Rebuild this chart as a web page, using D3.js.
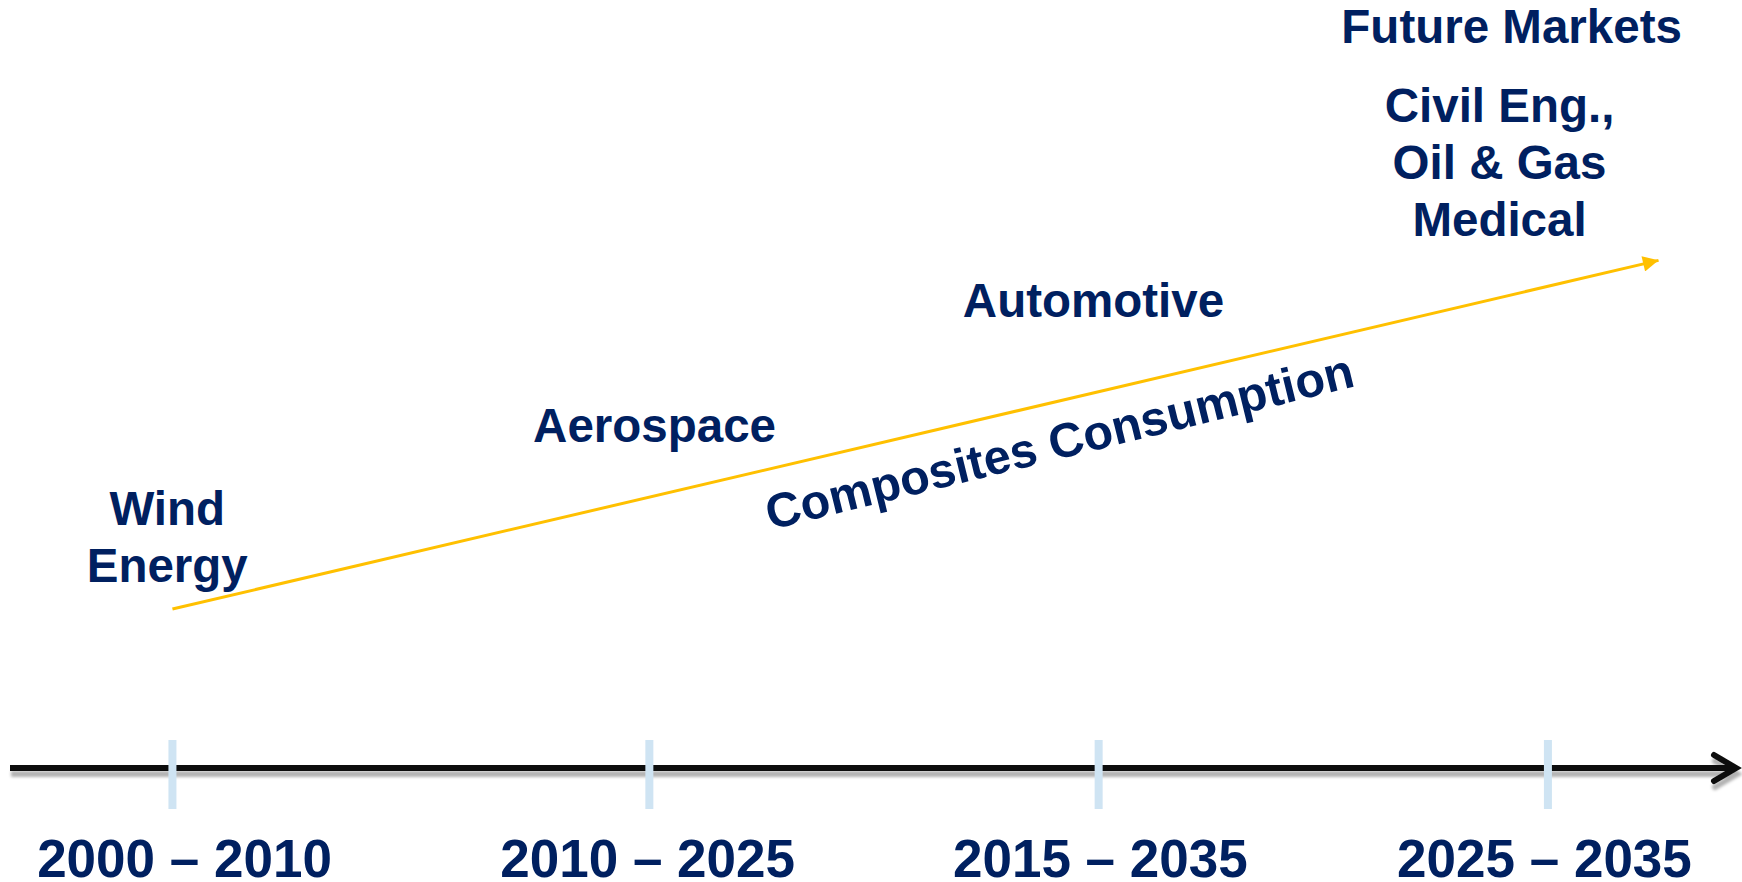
<!DOCTYPE html>
<html>
<head>
<meta charset="utf-8">
<script src="https://cdn.jsdelivr.net/npm/d3@7"></script>
<style>
  body { margin: 0; background: #fff; }
  svg { display: block; }
</style>
</head>
<body>
<div id="chart"></div>
<script>
// timeline stages (position on a 0-100 timeline scale)
const periods = ["2000 – 2010", "2010 – 2025", "2015 – 2035", "2025 – 2035"];
const periodTicks = [9.4, 37.0, 63.0, 89.0];
const periodLabelX = [10.1, 36.9, 63.1, 88.8];

// markets placed by timeline position and consumption level (0-100)
const markets = [["Wind", "Energy"], ["Aerospace"], ["Automotive"], ["Civil Eng.,", "Oil & Gas", "Medical"]];
const marketX = [9.1, 37.3, 62.7, 86.2];
const marketLevel = [31.6, 42.4, 58.7, 84.1];

const futureTitle = "Future Markets";
const futureTitlePos = [86.9, 94.4];

// consumption trend arrow
const trendX = [9.4, 95.4];
const trendLevel = [20.7, 66.1];
const trendLabel = "Composites Consumption";
const trendLabelPos = [44.0, 31.0];

const width = 1742, height = 882;
const navy = "#002060", gold = "#FFC000";
const font = "'Liberation Sans', Arial, sans-serif";

const x = d3.scaleLinear().domain([0, 100]).range([10, 1738]);
const y = d3.scaleLinear().domain([0, 100]).range([768, 0]);

const svg = d3.select("#chart").append("svg")
    .attr("width", width)
    .attr("height", height)
    .style("background", "#fff");

const defs = svg.append("defs");
defs.append("filter").attr("id", "shadow")
    .attr("x", "-5%").attr("y", "-50%").attr("width", "110%").attr("height", "300%")
  .append("feDropShadow")
    .attr("dx", 1).attr("dy", 6).attr("stdDeviation", 1.8)
    .attr("flood-color", "#000").attr("flood-opacity", 0.3);

defs.append("marker").attr("id", "goldHead")
    .attr("viewBox", "0 0 10 10")
    .attr("refX", 10).attr("refY", 5)
    .attr("markerWidth", 6).attr("markerHeight", 5.2)
    .attr("markerUnits", "strokeWidth")
    .attr("orient", "auto")
  .append("path").attr("d", "M0,0L10,5L0,10Z").attr("fill", gold);

// axis line with chevron
const axisY = y(0);
const axis = svg.append("g").attr("filter", "url(#shadow)");
axis.append("line")
    .attr("x1", x(0)).attr("x2", x(100) - 2)
    .attr("y1", axisY).attr("y2", axisY)
    .attr("stroke", "#111").attr("stroke-width", 6);
axis.append("path")
    .attr("d", `M${x(100) - 24},${axisY - 13}L${x(100) - 2},${axisY}L${x(100) - 24},${axisY + 13}`)
    .attr("fill", "none").attr("stroke", "#111").attr("stroke-width", 6)
    .attr("stroke-linecap", "round").attr("stroke-linejoin", "miter");

// period ticks
svg.append("g").selectAll("rect")
    .data(periodTicks)
    .join("rect")
    .attr("x", d => x(d) - 4)
    .attr("y", axisY - 28)
    .attr("width", 8)
    .attr("height", 69)
    .attr("fill", "#cfe4f3");

// period labels
svg.append("g").selectAll("text")
    .data(periods)
    .join("text")
    .attr("x", (d, i) => x(periodLabelX[i]))
    .attr("y", 877)
    .attr("text-anchor", "middle")
    .attr("font-family", font)
    .attr("font-weight", "bold")
    .attr("font-size", 53)
    .attr("fill", navy)
    .text(d => d);

// trend arrow
svg.append("line")
    .attr("x1", x(trendX[0])).attr("y1", y(trendLevel[0]))
    .attr("x2", x(trendX[1])).attr("y2", y(trendLevel[1]))
    .attr("stroke", gold).attr("stroke-width", 3)
    .attr("marker-end", "url(#goldHead)");

svg.append("text")
    .attr("transform", `translate(${x(trendLabelPos[0])},${y(trendLabelPos[1])}) rotate(-13.8)`)
    .attr("font-family", font)
    .attr("font-weight", "bold")
    .attr("font-size", 48.5)
    .attr("fill", navy)
    .text(trendLabel);

// market labels
const lineH = 57;
const mk = svg.append("g").selectAll("text")
    .data(markets)
    .join("text")
    .attr("x", (d, i) => x(marketX[i]))
    .attr("y", (d, i) => y(marketLevel[i]))
    .attr("text-anchor", "middle")
    .attr("font-family", font)
    .attr("font-weight", "bold")
    .attr("font-size", 47.5)
    .attr("fill", navy);
mk.each(function(lines, i) {
    d3.select(this).selectAll("tspan")
        .data(lines)
        .join("tspan")
        .attr("x", x(marketX[i]))
        .attr("dy", (d, j) => j === 0 ? 0 : lineH)
        .text(d => d);
});

svg.append("text")
    .attr("x", x(futureTitlePos[0]))
    .attr("y", y(futureTitlePos[1]))
    .attr("text-anchor", "middle")
    .attr("font-family", font)
    .attr("font-weight", "bold")
    .attr("font-size", 47.5)
    .attr("fill", navy)
    .text(futureTitle);
</script>
</body>
</html>
